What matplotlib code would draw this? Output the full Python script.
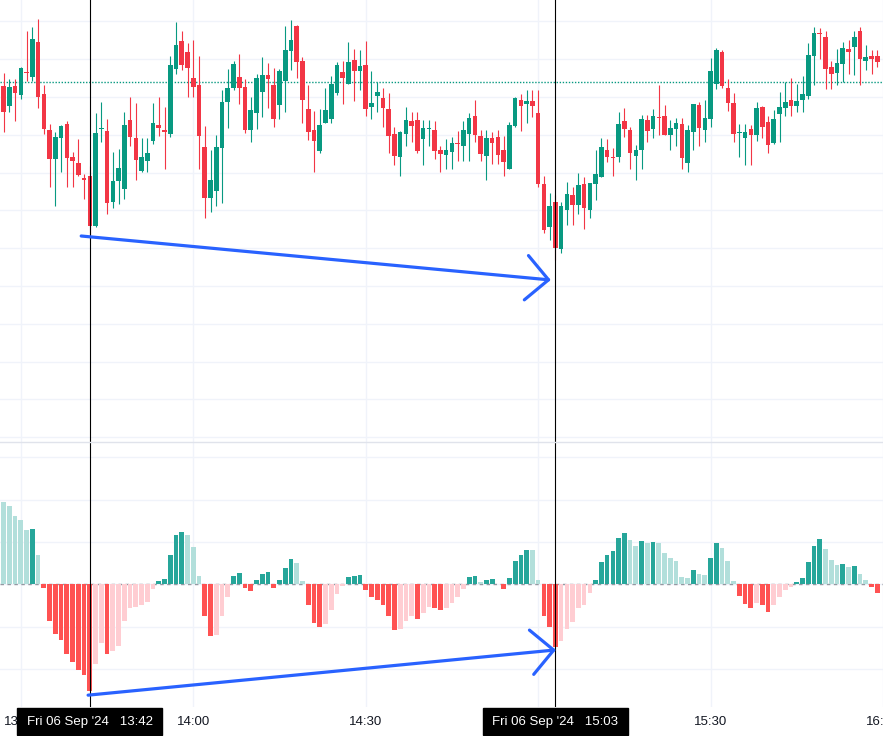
import numpy as np
import matplotlib.pyplot as plt
from matplotlib.patches import Rectangle, FancyArrowPatch
from matplotlib.lines import Line2D

# 1-minute bars, Fri 06 Sep 2024, first visible bar at 13:27
first_bar = "13:27"
chart_date = "Fri 06 Sep '24"

opens = [57.42, 56.82, 57.42, 57.15, 57.85, 57.70, 58.74, 57.18, 56.10, 55.24,
         55.87, 56.28, 55.30, 55.11, 54.66, 54.72, 53.23, 56.14, 56.07, 53.95,
         54.57, 54.34, 56.40, 55.86, 54.88, 55.18, 55.78, 56.25, 56.10, 55.99,
         57.94, 58.77, 58.44, 57.65, 57.45, 55.60, 54.07, 54.28, 55.57, 56.94,
         57.36, 57.69, 57.39, 56.11, 56.62, 57.25, 57.75, 57.45, 56.86, 57.58,
         58.48, 59.23, 58.17, 56.73, 56.10, 55.48, 56.32, 56.44, 57.22, 57.84,
         57.49, 58.20, 57.88, 58.05, 56.80, 57.13, 57.06, 56.73, 55.99, 55.30,
         55.99, 56.37, 56.40, 55.84, 56.14, 56.10, 55.50, 55.36, 55.45, 55.71,
         55.63, 55.99, 56.52, 55.92, 55.33, 55.86, 55.90, 55.50, 54.94, 56.23,
         57.00, 56.89, 56.97, 56.61, 54.48, 53.20, 53.94, 52.54, 53.71, 54.15,
         53.86, 54.48, 53.71, 54.49, 54.68, 55.50, 55.30, 55.30, 56.37, 56.11,
         55.33, 55.51, 56.40, 56.14, 56.49, 56.52, 55.96, 56.14, 56.28, 55.12,
         56.05, 56.85, 56.11, 56.44, 57.48, 58.44, 57.36, 56.91, 56.01, 55.87,
         56.13, 55.96, 56.79, 56.34, 55.72, 56.59, 56.77, 57.00, 56.83, 57.01,
         57.13, 58.33, 59.01, 58.89, 57.99, 57.82, 58.09, 58.53, 58.60, 59.07,
         58.18, 58.32, 58.32]
highs = [57.82, 57.63, 57.63, 58.00, 59.07, 59.20, 59.43, 57.45, 56.28, 56.03,
         56.25, 56.38, 55.45, 55.83, 54.78, 55.03, 56.61, 56.95, 56.44, 55.44,
         55.53, 56.64, 57.09, 56.91, 55.87, 55.87, 56.91, 57.09, 56.80, 58.32,
         59.34, 59.07, 58.71, 58.80, 58.32, 56.22, 55.50, 55.96, 57.30, 57.93,
         58.17, 58.38, 57.63, 57.09, 57.78, 58.29, 58.11, 57.96, 57.93, 59.22,
         59.40, 59.26, 58.29, 57.45, 56.67, 56.74, 57.36, 57.72, 58.14, 58.17,
         58.74, 58.53, 58.50, 58.77, 57.87, 57.54, 57.36, 57.21, 56.19, 56.08,
         56.79, 56.64, 56.64, 56.40, 56.40, 56.37, 55.63, 55.83, 55.90, 56.08,
         56.37, 56.61, 57.00, 56.10, 56.10, 56.04, 56.10, 55.92, 56.34, 57.10,
         57.18, 57.30, 57.30, 57.30, 54.73, 54.22, 54.16, 53.95, 54.54, 54.39,
         54.81, 54.69, 54.51, 55.50, 55.87, 55.84, 55.57, 56.64, 56.76, 56.20,
         55.65, 56.55, 56.55, 56.73, 57.45, 56.85, 56.40, 56.46, 56.46, 56.25,
         56.88, 56.94, 57.00, 58.26, 58.56, 58.50, 57.63, 57.21, 56.28, 56.28,
         56.25, 56.94, 56.82, 56.52, 56.70, 57.24, 57.54, 57.66, 57.48, 57.72,
         58.71, 59.19, 59.16, 59.07, 58.17, 58.53, 58.74, 58.80, 59.07, 59.19,
         58.65, 58.50, 58.50]
lows = [56.05, 56.65, 56.38, 57.04, 57.57, 57.57, 56.77, 55.99, 54.40, 53.83,
        54.85, 54.40, 54.40, 54.73, 54.04, 52.82, 53.19, 55.75, 53.59, 53.77,
        53.89, 54.03, 55.63, 54.61, 54.85, 54.85, 55.67, 55.93, 54.94, 55.88,
        57.79, 57.91, 57.10, 57.10, 54.94, 53.47, 53.65, 53.83, 53.92, 56.17,
        57.30, 56.89, 56.02, 55.75, 56.14, 56.48, 56.77, 56.20, 56.44, 56.65,
        57.90, 57.67, 56.32, 55.81, 54.85, 55.42, 56.32, 56.32, 57.16, 56.89,
        57.49, 56.98, 57.31, 56.53, 56.44, 56.65, 56.20, 55.42, 55.06, 54.73,
        55.63, 55.75, 55.42, 55.06, 55.63, 55.24, 54.85, 54.94, 54.94, 55.18,
        55.18, 55.18, 55.75, 55.18, 54.61, 55.09, 55.09, 54.73, 54.94, 56.20,
        56.08, 56.32, 56.50, 54.40, 53.02, 52.81, 52.21, 52.42, 53.26, 53.26,
        53.59, 53.14, 53.47, 54.01, 54.68, 55.15, 54.73, 55.15, 55.90, 54.94,
        54.61, 54.94, 55.75, 55.87, 55.96, 55.96, 55.51, 55.63, 54.94, 54.85,
        55.51, 55.63, 55.75, 56.20, 57.34, 57.37, 56.68, 55.75, 55.30, 55.06,
        55.06, 55.78, 55.87, 55.42, 55.69, 55.75, 56.53, 56.53, 56.64, 56.64,
        57.04, 57.46, 58.23, 57.34, 57.34, 57.46, 57.55, 57.79, 57.75, 57.46,
        57.91, 57.79, 58.00]
closes = [56.65, 57.38, 57.22, 57.95, 57.80, 58.83, 57.10, 56.14, 55.24, 55.90,
          56.22, 55.27, 55.18, 54.76, 54.61, 53.23, 56.01, 56.17, 53.92, 54.57,
          54.96, 56.25, 55.90, 55.21, 55.29, 55.41, 56.31, 56.17, 56.05, 58.05,
          58.65, 58.06, 57.97, 57.40, 55.93, 54.07, 54.60, 55.60, 56.94, 57.36,
          58.08, 57.37, 56.11, 56.70, 57.66, 57.75, 57.64, 56.44, 57.87, 58.50,
          58.80, 58.15, 57.01, 56.05, 55.78, 56.25, 56.70, 57.48, 58.05, 57.67,
          58.14, 57.88, 58.02, 56.74, 56.91, 57.24, 56.77, 55.93, 55.33, 56.05,
          56.40, 56.23, 55.48, 56.16, 56.17, 55.48, 55.39, 55.50, 55.71, 55.68,
          56.10, 56.46, 55.96, 55.39, 55.86, 55.72, 55.36, 55.15, 56.25, 57.07,
          56.83, 56.97, 56.83, 54.49, 53.11, 53.82, 52.57, 53.82, 54.18, 53.86,
          54.45, 53.77, 54.51, 54.78, 55.60, 55.30, 55.27, 56.28, 56.14, 55.42,
          55.50, 56.43, 56.08, 56.52, 56.46, 55.96, 56.16, 56.31, 55.27, 56.10,
          56.88, 56.17, 56.46, 57.87, 58.50, 57.43, 56.92, 55.99, 56.04, 56.04,
          55.96, 56.76, 56.20, 55.66, 56.43, 56.79, 56.94, 56.83, 56.97, 57.18,
          58.35, 59.01, 58.98, 57.94, 57.79, 58.11, 58.56, 58.45, 58.89, 58.24,
          58.29, 58.24, 58.15]
macd_hist = [1.94, 1.85, 1.61, 1.52, 1.28, 1.31, 0.69, -0.08, -0.87, -1.18,
             -1.32, -1.65, -1.83, -2.02, -2.14, -2.52, -1.88, -1.38, -1.65, -1.58,
             -1.45, -0.87, -0.55, -0.53, -0.48, -0.42, -0.10, 0.08, 0.13, 0.69,
             1.16, 1.24, 1.17, 0.88, 0.20, -0.76, -1.22, -1.19, -0.74, -0.29,
             0.20, 0.27, -0.08, -0.15, 0.10, 0.24, 0.29, -0.08, 0.10, 0.39,
             0.60, 0.50, 0.08, -0.50, -0.91, -1.02, -0.93, -0.60, -0.22, -0.03,
             0.18, 0.20, 0.22, -0.13, -0.31, -0.37, -0.48, -0.76, -1.09, -1.05,
             -0.86, -0.74, -0.83, -0.67, -0.53, -0.57, -0.60, -0.55, -0.43, -0.31,
             -0.10, 0.18, 0.20, 0.06, 0.10, 0.13, 0.01, -0.10, 0.15, 0.54,
             0.69, 0.82, 0.81, 0.10, -0.74, -1.00, -1.47, -1.33, -1.05, -0.88,
             -0.57, -0.50, -0.20, 0.10, 0.53, 0.69, 0.79, 1.09, 1.21, 1.05,
             0.91, 1.02, 0.98, 1.00, 0.98, 0.74, 0.62, 0.55, 0.17, 0.15,
             0.34, 0.24, 0.23, 0.62, 0.98, 0.86, 0.55, 0.08, -0.27, -0.46,
             -0.57, -0.43, -0.48, -0.65, -0.50, -0.31, -0.13, -0.06, 0.06, 0.16,
             0.53, 0.91, 1.07, 0.83, 0.57, 0.46, 0.47, 0.41, 0.43, 0.24,
             0.10, -0.06, -0.20]

last_price = 57.54
marked_bars = ["13:42", "15:03"]
time_labels = ["13:30", "14:00", "14:30", "15:00", "15:30", "16:00"]

# hand-drawn divergence arrows: (minutes after 13:30, value)
price_arrow = [(10.5, 52.92), (92.2, 51.60)]
hist_arrow = [(11.7, -2.62), (93.1, -1.55)]

UP, DOWN = "#089981", "#f23645"
GRID = "#f0f3fa"
BLUE = "#2962ff"


def to_min(s):
    h, m = map(int, s.split(":"))
    return h * 60 + m - (13 * 60 + 30)


o, h, l, c = map(np.array, (opens, highs, lows, closes))
hist = np.array(macd_hist)
x = to_min(first_bar) + np.arange(len(o))

W, H = 883, 736
fig = plt.figure(figsize=(W / 100, H / 100), dpi=100)
plt.rcParams["font.family"] = ["Liberation Sans", "DejaVu Sans"]

ax1 = fig.add_axes([0, 1 - 442 / H, 1, 442 / H])
ax2 = fig.add_axes([0, 1 - 707 / H, 1, 265 / H])

xmin, xmax = -21 / 5.79, (W - 21) / 5.79
for ax in (ax1, ax2):
    ax.set_xlim(xmin, xmax)
    ax.set_xticks([to_min(t) for t in time_labels])
    ax.tick_params(length=0, labelleft=False, labelbottom=False)
    for s in ax.spines.values():
        s.set_visible(False)
    ax.grid(True, color=GRID, lw=1)
    ax.set_axisbelow(True)

# ---- price pane ----
ax1.set_ylim(46.74, 60.0)
ax1.set_yticks(59.36 - 1.134 * np.arange(12))

cols = np.where(c >= o, UP, DOWN)
ax1.vlines(x, l, h, colors=cols, lw=0.8, zorder=2)
body_lo = np.minimum(o, c)
body_h = np.maximum(np.abs(c - o), 0.03)
ax1.bar(x, body_h, 0.8, bottom=body_lo, color=cols, linewidth=0, zorder=3)
ax1.axhline(last_price, color=UP, lw=1, ls=(0, (1, 1.2)), zorder=1)

# ---- MACD histogram pane ----
ax2.set_ylim(-2.90, 3.364)
ax2.set_yticks(np.arange(-2, 4))
prev = np.r_[np.nan, hist[:-1]]
hcols = np.where(hist >= 0,
                 np.where(hist > prev, "#26a69a", "#b2dfdb"),
                 np.where(hist < prev, "#ff5252", "#ffcdd2"))
ax2.axhline(0, color="#9598a1", lw=1, ls=(0, (2.5, 2.5)), zorder=1)
ax2.bar(x, hist, 0.82, color=hcols, linewidth=0, zorder=2)

# crosshair lines at the marked bars
for t in marked_bars:
    for ax in (ax1, ax2):
        ax.axvline(to_min(t), color="black", lw=0.8, zorder=5)

# divergence arrows
for ax, pts in ((ax1, price_arrow), (ax2, hist_arrow)):
    arr = FancyArrowPatch(pts[0], pts[1],
                          arrowstyle="->,head_length=16,head_width=16",
                          color=BLUE, lw=2.3, shrinkA=0, shrinkB=0,
                          capstyle="round", joinstyle="round", zorder=6)
    ax.add_patch(arr)

# pane separator
fig.add_artist(Line2D([0, 1], [1 - 442 / H] * 2, transform=fig.transFigure,
                      color="#e0e3eb", lw=1))

# time axis labels
tr = ax2.get_xaxis_transform()
for t in time_labels:
    ax2.text(to_min(t), -0.056, t, transform=tr, ha="center", va="center",
             fontsize=9.5, color="#131722", clip_on=False, zorder=3)

for t in marked_bars:
    m = to_min(t)
    ax2.add_patch(Rectangle((m - 12.6, -0.106), 25.2, 0.104, transform=tr,
                            color="black", clip_on=False, zorder=7))
    ax2.text(m, -0.056, f"{chart_date}   {t}", transform=tr, ha="center",
             va="center", fontsize=9.5, color="white", clip_on=False, zorder=8)

fig.savefig("out.png", dpi=100, facecolor="white")
